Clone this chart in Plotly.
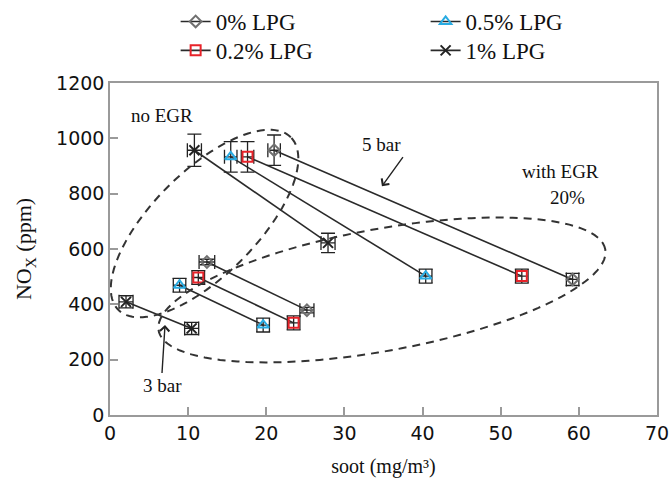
import numpy as np
import plotly.graph_objects as go

# ---------------- data ----------------
series_names = ["0% LPG", "0.5% LPG", "0.2% LPG", "1% LPG"]
# each series: [3 bar no EGR, 3 bar with EGR, 5 bar no EGR, 5 bar with EGR]
soot_0 = [12.4, 25.2, 21.0, 59.2]
nox_0 = [553, 379, 957, 490]
soot_05 = [8.9, 19.6, 15.45, 40.4]
nox_05 = [469, 325, 933, 502]
soot_02 = [11.3, 23.5, 17.6, 52.7]
nox_02 = [497, 333, 933, 502]
soot_1 = [2.05, 10.45, 10.8, 27.9]
nox_1 = [409, 313, 957, 622]

errx_0 = [1.0, 0.9, 0.8, 0.8]
erry_0 = [10, 10, 55, 22]
errx_05 = [0.8, 0.8, 0.8, 0.8]
erry_05 = [25, 25, 55, 25]
errx_02 = [0.8, 0.8, 0.8, 0.8]
erry_02 = [25, 25, 55, 25]
errx_1 = [0.9, 0.9, 0.9, 0.9]
erry_1 = [22, 22, 58, 35]

x_ticks = [0, 10, 20, 30, 40, 50, 60, 70]
y_ticks = [0, 200, 400, 600, 800, 1000, 1200]

# ---------------- layout geometry ----------------
W, H = 670, 484
ML, MR, MT, MB = 110, 13, 83, 69
PW, PH = W - ML - MR, H - MT - MB
XMAX, YMAX = 70, 1200
SX, SY = PW / XMAX, PH / YMAX  # px per unit

SERIF = "Liberation Serif"
SANS = "DejaVu Sans"


def split(vals):
    return [vals[0], vals[1], None, vals[2], vals[3]]


def splite(vals):
    return [vals[0], vals[1], 0, vals[2], vals[3]]


styles = {
    "0% LPG": dict(symbol="diamond-open", color="#707070", size=9, legend="legend"),
    "0.2% LPG": dict(symbol="square-open", color="#e8232a", size=10, legend="legend2"),
    "0.5% LPG": dict(symbol="triangle-up-open", color="#29abe2", size=10, legend="legend3"),
    "1% LPG": dict(symbol="x-thin-open", color="#222222", size=10, legend="legend4"),
}
data = {
    "0% LPG": (soot_0, nox_0, errx_0, erry_0),
    "0.2% LPG": (soot_02, nox_02, errx_02, erry_02),
    "0.5% LPG": (soot_05, nox_05, errx_05, erry_05),
    "1% LPG": (soot_1, nox_1, errx_1, erry_1),
}

fig = go.Figure()
for name in ["1% LPG", "0.5% LPG", "0.2% LPG", "0% LPG"]:
    sx, ny, ex, ey = data[name]
    st = styles[name]
    fig.add_trace(go.Scatter(
        x=split(sx), y=split(ny), name=name, mode="lines+markers",
        legend=st["legend"], connectgaps=False,
        line=dict(color="#2a2a2a", width=1.6),
        marker=dict(symbol=st["symbol"], size=st["size"], color=st["color"],
                    line=dict(width=2, color=st["color"])),
        error_x=dict(type="data", array=splite(ex), color="#222", thickness=1.3, width=7),
        error_y=dict(type="data", array=splite(ey), color="#222", thickness=1.3, width=7),
    ))


# ---------------- dashed ellipses (decoration) ----------------
def ellipse_path(cx, cy, a_px, b_px, ang_deg, n=120):
    t = np.linspace(0, 2 * np.pi, n)
    th = np.deg2rad(ang_deg)
    ex = a_px * np.cos(t)
    ey = b_px * np.sin(t)
    px = ex * np.cos(th) - ey * np.sin(th)
    py = ex * np.sin(th) + ey * np.cos(th)
    xs = cx + px / SX
    ys = cy + py / SY
    return "M " + " L ".join(f"{x:.3f},{y:.2f}" for x, y in zip(xs, ys)) + " Z"


for (cx, cy, a, b, ang) in [(12.1, 692, 122, 52, 45), (34.8, 452, 227, 61, 10.3)]:
    fig.add_shape(type="path", xref="x", yref="y",
                  path=ellipse_path(cx, cy, a, b, ang),
                  line=dict(color="#333", width=2, dash="8px,6px"), layer="above")

# ---------------- annotations ----------------
afont = dict(family=SERIF, size=19, color="#111")
fig.add_annotation(x=6.65, y=1083, text="no EGR", showarrow=False, font=afont)
fig.add_annotation(x=57.7, y=880, text="with EGR", showarrow=False, font=afont)
fig.add_annotation(x=58.6, y=786, text="20%", showarrow=False, font=afont)
fig.add_annotation(x=34.8, y=827, ax=21, ay=-29, text="5 bar", showarrow=True,
                   xanchor="right", yanchor="bottom", font=afont,
                   arrowhead=4, arrowsize=1.3, arrowwidth=1.4, arrowcolor="#222")
fig.add_annotation(x=7.04, y=325, ax=-3, ay=48, text="3 bar", showarrow=True,
                   xanchor="center", yanchor="top", font=afont,
                   arrowhead=4, arrowsize=1.3, arrowwidth=1.4, arrowcolor="#222")

axis_common = dict(showline=True, linecolor="#9a9a9a", linewidth=1.5, mirror=True,
                   ticks="inside", ticklen=8, tickcolor="#9a9a9a", tickwidth=1.5,
                   showgrid=False, zeroline=False, automargin=False,
                   tickfont=dict(family=SANS, size=19, color="#111"))

leg_common = dict(orientation="v", yanchor="top", xanchor="left", traceorder="normal",
                  font=dict(family=SERIF, size=23, color="#111"),
                  bgcolor="rgba(0,0,0,0)", tracegroupgap=0)

ROW1_Y, ROW2_Y = 1.25, 1.163
COL1_X, COL2_X = 0.12, 0.577

fig.update_layout(
    width=W, height=H, plot_bgcolor="white", paper_bgcolor="white",
    margin=dict(l=ML, r=MR, t=MT, b=MB, autoexpand=False),
    xaxis=dict(range=[0, XMAX], tickvals=x_ticks, **axis_common,
               title=dict(text="soot (mg/m³)", font=dict(family=SERIF, size=20, color="#111"),
                          standoff=16)),
    yaxis=dict(range=[0, YMAX], tickvals=y_ticks, **axis_common,
               title=dict(text="NO<sub>X</sub> (ppm)", font=dict(family=SERIF, size=22, color="#111"),
                          standoff=18)),
    legend=dict(x=COL1_X, y=ROW1_Y, **leg_common),
    legend2=dict(x=COL1_X, y=ROW2_Y, **leg_common),
    legend3=dict(x=COL2_X, y=ROW1_Y, **leg_common),
    legend4=dict(x=COL2_X, y=ROW2_Y, **leg_common),
    showlegend=True,
)

fig.write_html("out.html", config={"displayModeBar": False},
               post_script="document.body.style.margin='0';")
